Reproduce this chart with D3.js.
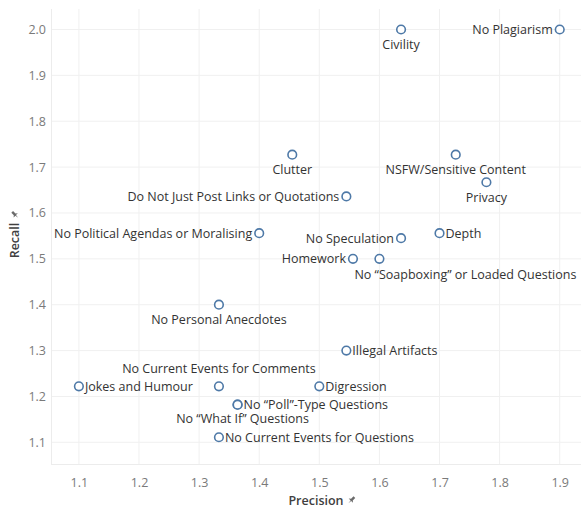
<!DOCTYPE html>
<html>
<head>
<meta charset="utf-8">
<script src="https://cdn.jsdelivr.net/npm/d3@7"></script>
<style>
  body { margin: 0; background: #fff; }
  svg { display: block; font-family: "Open Sans", "Noto Sans", sans-serif; }
</style>
</head>
<body>
<div id="chart"></div>
<script>
// rules and their precision / recall
var rules = ['Civility', 'No Plagiarism', 'NSFW/Sensitive Content', 'Privacy', 'Clutter',
  'Do Not Just Post Links or Quotations', 'No Political Agendas or Moralising', 'No Speculation',
  'Depth', 'Homework', 'No \u201CSoapboxing\u201D or Loaded Questions', 'No Personal Anecdotes',
  'Illegal Artifacts', 'Jokes and Humour', 'No Current Events for Comments', 'Digression',
  'No \u201CPoll\u201D-Type Questions', 'No \u201CWhat If\u201D Questions', 'No Current Events for Questions']
var precision = [1.636, 1.9, 1.727, 1.778, 1.455, 1.545, 1.4, 1.636, 1.7, 1.556, 1.6, 1.333,
  1.545, 1.1, 1.333, 1.5, 1.364, 1.364, 1.333]
var recall = [2.0, 2.0, 1.727, 1.667, 1.727, 1.636, 1.556, 1.545, 1.556, 1.5, 1.5, 1.4,
  1.3, 1.222, 1.222, 1.222, 1.182, 1.182, 1.111]
// where tableau put each mark label
var labelPos = ['below', 'left', 'below', 'below', 'below', 'left', 'left', 'left', 'right', 'left',
  'belowright', 'below', 'right', 'right', 'above', 'right', 'right', 'belowleft', 'right']

var xTicks = [1.1, 1.2, 1.3, 1.4, 1.5, 1.6, 1.7, 1.8, 1.9]
var yTicks = [1.1, 1.2, 1.3, 1.4, 1.5, 1.6, 1.7, 1.8, 1.9, 2.0]

var width = 581, height = 510
var plot = {left: 51, top: 9, right: 581, bottom: 464}

var svg = d3.select('#chart').append('svg')
  .attr('width', width)
  .attr('height', height)

var x = d3.scaleLinear().domain([1.0536, 1.9354]).range([plot.left, plot.right])
var y = d3.scaleLinear().domain([1.0527, 2.0447]).range([plot.bottom, plot.top])

var grid = svg.append('g').attr('class', 'grid')
grid.selectAll('line.v').data(xTicks).enter().append('line')
  .attr('x1', d => x(d)).attr('x2', d => x(d))
  .attr('y1', plot.top).attr('y2', plot.bottom)
  .attr('stroke', '#f0f0f0')
grid.selectAll('line.h').data(yTicks).enter().append('line')
  .attr('x1', plot.left).attr('x2', plot.right)
  .attr('y1', d => y(d)).attr('y2', d => y(d))
  .attr('stroke', '#f0f0f0')
// plot frame (left + bottom)
grid.append('line').attr('x1', plot.left + 0.5).attr('x2', plot.left + 0.5)
  .attr('y1', plot.top).attr('y2', plot.bottom).attr('stroke', '#ececec')
grid.append('line').attr('x1', plot.left).attr('x2', plot.right)
  .attr('y1', plot.bottom + 0.5).attr('y2', plot.bottom + 0.5).attr('stroke', '#ececec')

var xAxis = svg.append('g')
  .attr('transform', 'translate(0,' + (plot.bottom + 11) + ')')
  .call(d3.axisBottom(x).tickValues(xTicks).tickFormat(d3.format('.1f')).tickSize(0))
var yAxis = svg.append('g')
  .attr('transform', 'translate(' + (plot.left - 5) + ',0)')
  .call(d3.axisLeft(y).tickValues(yTicks).tickFormat(d3.format('.1f')).tickSize(0))

svg.selectAll('.domain').remove()
svg.selectAll('.tick text')
  .style('font-family', '"Open Sans", sans-serif')
  .style('font-size', '12.5px')
  .attr('fill', '#7a7a7a')
yAxis.selectAll('.tick text').attr('x', 0)

// little tableau pin
function pin(g, px, py, rot) {
  g.append('path')
    .attr('transform', 'translate(' + px + ',' + py + ') rotate(' + rot + ')')
    .attr('d', 'M-1.2,-4 L1.2,-4 L1.2,-0.5 L3,1 L0.4,1 L0,4.5 L-0.4,1 L-3,1 L-1.2,-0.5 Z')
    .attr('fill', '#6b6b6b')
}

var xTitle = svg.append('text')
  .attr('x', (plot.left + plot.right) / 2)
  .attr('y', 505)
  .attr('text-anchor', 'middle')
  .style('font-size', '12.5px')
  .style('font-weight', '600')
  .attr('fill', '#404040')
  .text('Precision')
var xb = xTitle.node().getBBox()
pin(svg, xb.x + xb.width + 8, 500, 45)

var yTitle = svg.append('text')
  .attr('transform', 'translate(19,' + ((plot.top + plot.bottom) / 2 + 4) + ') rotate(-90)')
  .attr('text-anchor', 'middle')
  .style('font-size', '12.5px')
  .style('font-weight', '600')
  .attr('fill', '#404040')
  .text('Recall')
var yb = yTitle.node().getBBox()
pin(svg, 15, (plot.top + plot.bottom) / 2 + 4 - yb.width / 2 - 8, -45)

var points = rules.map(function (r, i) {
  return {rule: r, p: precision[i], r: recall[i], pos: labelPos[i]}
})

var marks = svg.append('g')
marks.selectAll('circle').data(points).enter().append('circle')
  .attr('cx', d => x(d.p))
  .attr('cy', d => y(d.r))
  .attr('r', 4.3)
  .attr('fill', '#fff')
  .attr('stroke', '#4e79a7')
  .attr('stroke-width', 1.6)

marks.selectAll('text').data(points).enter().append('text')
  .attr('x', function (d) {
    var cx = x(d.p)
    if (d.pos == 'left') return cx - 7
    if (d.pos == 'right') return cx + 6
    if (d.pos == 'belowleft') return cx + 5
    if (d.pos == 'belowright') return cx - 25
    return cx
  })
  .attr('y', function (d) {
    var cy = y(d.r)
    if (d.pos == 'below') return cy + 19.5
    if (d.pos == 'above') return cy - 13
    if (d.pos == 'belowleft') return cy + 18.5
    if (d.pos == 'belowright') return cy + 20.5
    return cy + 4.5
  })
  .attr('text-anchor', function (d) {
    if (d.pos == 'left') return 'end'
    if (d.pos == 'right' || d.pos == 'belowright') return 'start'
    return 'middle'
  })
  .style('font-size', '12.5px')
  .attr('fill', '#333')
  .text(d => d.rule)
</script>
</body>
</html>
